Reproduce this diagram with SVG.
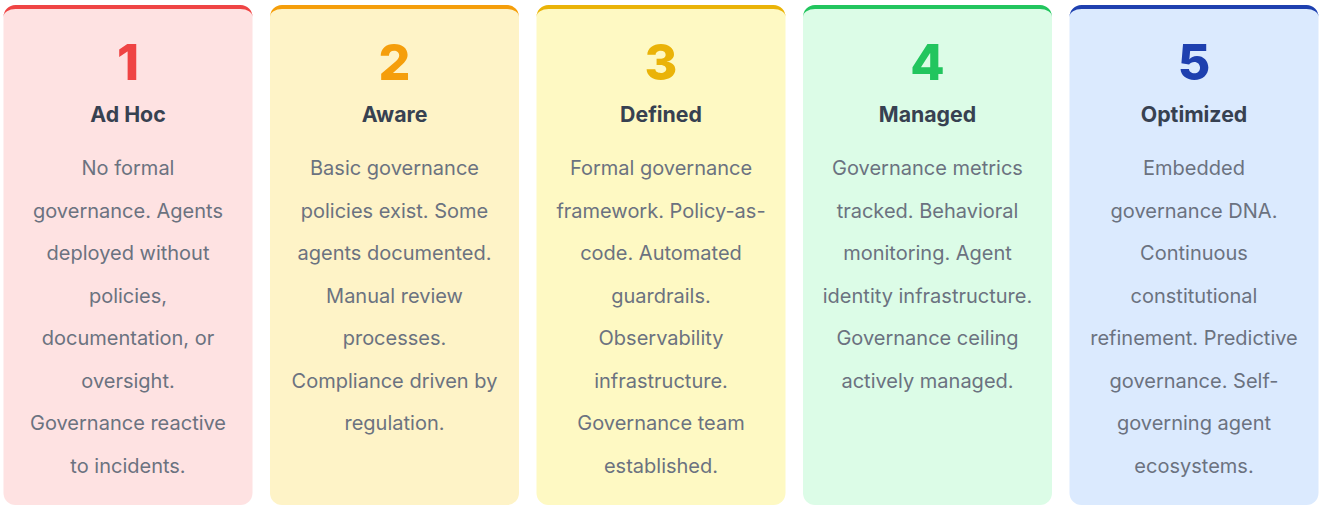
<svg xmlns="http://www.w3.org/2000/svg" width="1320" height="506" viewBox="0 0 1320 506">
<style>
.num{font-family:Inter,"Liberation Sans",sans-serif;font-weight:800;font-size:50px;text-anchor:middle}
.ttl{font-family:Inter,"Liberation Sans",sans-serif;font-weight:700;font-size:21.3px;fill:#374151;text-anchor:middle}
.body{font-family:Inter,"Liberation Sans",sans-serif;font-weight:400;font-size:20px;fill:#6b7280;text-anchor:middle}
</style>
<rect width="1320" height="506" fill="#ffffff"/>
<g id="card1">
<rect x="3.5" y="5" width="249" height="500" rx="12" fill="#fee2e2"/>
<path d="M3.5,17 A12,12 0 0 1 15.5,5 H240.5 A12,12 0 0 1 252.5,17 A12,8 0 0 0 240.5,9 H15.5 A12,8 0 0 0 3.5,17 Z" fill="#ef4444"/>
<text class="num" x="128" y="80" fill="#ef4444">1</text>
<text class="ttl" x="128" y="121.5">Ad Hoc</text>
<text class="body" x="128" y="175">No formal</text>
<text class="body" x="128" y="217.5">governance. Agents</text>
<text class="body" x="128" y="260">deployed without</text>
<text class="body" x="128" y="302.5">policies,</text>
<text class="body" x="128" y="345">documentation, or</text>
<text class="body" x="128" y="387.5">oversight.</text>
<text class="body" x="128" y="430">Governance reactive</text>
<text class="body" x="128" y="472.5">to incidents.</text>
</g>
<g id="card2">
<rect x="270" y="5" width="249" height="500" rx="12" fill="#fef3c7"/>
<path d="M270,17 A12,12 0 0 1 282,5 H507 A12,12 0 0 1 519,17 A12,8 0 0 0 507,9 H282 A12,8 0 0 0 270,17 Z" fill="#f59e0b"/>
<text class="num" x="394.5" y="80" fill="#f59e0b">2</text>
<text class="ttl" x="394.5" y="121.5">Aware</text>
<text class="body" x="394.5" y="175">Basic governance</text>
<text class="body" x="394.5" y="217.5">policies exist. Some</text>
<text class="body" x="394.5" y="260">agents documented.</text>
<text class="body" x="394.5" y="302.5">Manual review</text>
<text class="body" x="394.5" y="345">processes.</text>
<text class="body" x="394.5" y="387.5">Compliance driven by</text>
<text class="body" x="394.5" y="430">regulation.</text>
</g>
<g id="card3">
<rect x="536.5" y="5" width="249" height="500" rx="12" fill="#fef9c3"/>
<path d="M536.5,17 A12,12 0 0 1 548.5,5 H773.5 A12,12 0 0 1 785.5,17 A12,8 0 0 0 773.5,9 H548.5 A12,8 0 0 0 536.5,17 Z" fill="#eab308"/>
<text class="num" x="661" y="80" fill="#eab308">3</text>
<text class="ttl" x="661" y="121.5">Defined</text>
<text class="body" x="661" y="175">Formal governance</text>
<text class="body" x="661" y="217.5">framework. Policy-as-</text>
<text class="body" x="661" y="260">code. Automated</text>
<text class="body" x="661" y="302.5">guardrails.</text>
<text class="body" x="661" y="345">Observability</text>
<text class="body" x="661" y="387.5">infrastructure.</text>
<text class="body" x="661" y="430">Governance team</text>
<text class="body" x="661" y="472.5">established.</text>
</g>
<g id="card4">
<rect x="803" y="5" width="249" height="500" rx="12" fill="#dcfce7"/>
<path d="M803,17 A12,12 0 0 1 815,5 H1040 A12,12 0 0 1 1052,17 A12,8 0 0 0 1040,9 H815 A12,8 0 0 0 803,17 Z" fill="#22c55e"/>
<text class="num" x="927.5" y="80" fill="#22c55e">4</text>
<text class="ttl" x="927.5" y="121.5">Managed</text>
<text class="body" x="927.5" y="175">Governance metrics</text>
<text class="body" x="927.5" y="217.5">tracked. Behavioral</text>
<text class="body" x="927.5" y="260">monitoring. Agent</text>
<text class="body" x="927.5" y="302.5">identity infrastructure.</text>
<text class="body" x="927.5" y="345">Governance ceiling</text>
<text class="body" x="927.5" y="387.5">actively managed.</text>
</g>
<g id="card5">
<rect x="1069.5" y="5" width="249" height="500" rx="12" fill="#dbeafe"/>
<path d="M1069.5,17 A12,12 0 0 1 1081.5,5 H1306.5 A12,12 0 0 1 1318.5,17 A12,8 0 0 0 1306.5,9 H1081.5 A12,8 0 0 0 1069.5,17 Z" fill="#1e40af"/>
<text class="num" x="1194" y="80" fill="#1e40af">5</text>
<text class="ttl" x="1194" y="121.5">Optimized</text>
<text class="body" x="1194" y="175">Embedded</text>
<text class="body" x="1194" y="217.5">governance DNA.</text>
<text class="body" x="1194" y="260">Continuous</text>
<text class="body" x="1194" y="302.5">constitutional</text>
<text class="body" x="1194" y="345">refinement. Predictive</text>
<text class="body" x="1194" y="387.5">governance. Self-</text>
<text class="body" x="1194" y="430">governing agent</text>
<text class="body" x="1194" y="472.5">ecosystems.</text>
</g>
</svg>
